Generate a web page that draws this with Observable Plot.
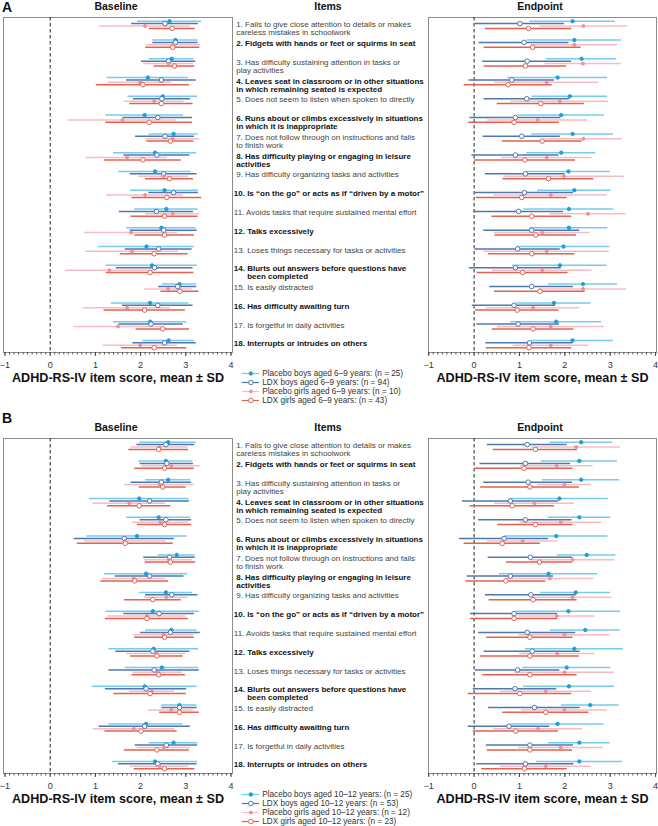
<!DOCTYPE html>
<html><head><meta charset="utf-8">
<script src="https://cdn.jsdelivr.net/npm/d3@7"></script>
<script src="https://cdn.jsdelivr.net/npm/@observablehq/plot@0.6"></script>
<style>
body{margin:0;background:#fff;}
#fig{position:relative;width:658px;height:826px;overflow:hidden;background:#fff;font-family:"Liberation Sans",Arial,Helvetica,sans-serif;}
#fig svg{position:absolute;overflow:visible;}
</style></head><body><div id="fig"></div>
<script>
// ---------- categories ----------
const items = [
  "1. Fails to give close attention to details or makes\ncareless mistakes in schoolwork",
  "2. Fidgets with hands or feet or squirms in seat",
  "3. Has difficulty sustaining attention in tasks or\nplay activities",
  "4. Leaves seat in classroom or in other situations\nin which remaining seated is expected",
  "5. Does not seem to listen when spoken to directly",
  "6. Runs about or climbs excessively in situations\nin which it is inappropriate",
  "7. Does not follow through on instructions and fails\nto finish work",
  "8. Has difficulty playing or engaging in leisure\nactivities",
  "9. Has difficulty organizing tasks and activities",
  "10. Is \u201con the go\u201d or acts as if \u201cdriven by a motor\u201d",
  "11. Avoids tasks that require sustained mental effort",
  "12. Talks excessively",
  "13. Loses things necessary for tasks or activities",
  "14. Blurts out answers before questions have\n\u00a0\u00a0\u00a0\u00a0\u00a0\u00a0been completed",
  "15. Is easily distracted",
  "16. Has difficulty awaiting turn",
  "17. Is forgetful in daily activities",
  "18. Interrupts or intrudes on others"
];
const groupsA = [
  "Placebo boys aged 6\u20139 years: (n = 25)",
  "LDX boys aged 6\u20139 years: (n = 94)",
  "Placebo girls aged 6\u20139 years: (n = 10)",
  "LDX girls aged 6\u20139 years: (n = 43)"
];
const groupsB = [
  "Placebo boys aged 10\u201312 years: (n = 25)",
  "LDX boys aged 10\u201312 years: (n = 53)",
  "Placebo girls aged 10\u201312 years: (n = 12)",
  "LDX girls aged 10\u201312 years: (n = 23)"
];
const xTicks = [-1, 0, 1, 2, 3, 4];
const axisTitle = "ADHD-RS-IV item score, mean \u00b1 SD";

// ---------- Panel A (6-9 years) baseline ----------
const aBasePBMean = [2.64,2.77,2.69,2.16,2.49,2.09,2.73,2.32,2.32,2.53,2.57,2.46,2.13,2.25,2.86,2.21,2.21,2.62];
const aBasePBSd   = [0.71,0.50,0.50,0.90,0.77,0.86,0.54,0.92,0.80,0.75,0.70,0.77,1.06,1.01,0.38,0.86,0.81,0.57];
const aBaseLBMean = [2.54,2.77,2.62,2.46,2.47,2.38,2.54,2.36,2.51,2.73,2.35,2.51,2.40,2.31,2.82,2.38,2.23,2.53];
const aBaseLBSd   = [0.74,0.50,0.60,0.77,0.63,0.77,0.65,0.73,0.74,0.55,0.82,0.74,0.74,0.85,0.42,0.78,0.71,0.70];
const aBasePGMean = [2.10,2.73,2.62,1.99,2.30,1.60,2.71,1.70,2.51,2.10,2.71,1.79,1.81,1.31,2.61,1.70,1.50,1.99];
const aBasePGSd   = [1.00,0.60,0.55,0.70,0.66,1.19,0.60,0.90,0.55,0.85,0.60,1.03,1.03,0.97,0.53,0.96,0.98,0.82];
const aBaseLGMean = [2.70,2.71,2.75,2.05,2.46,2.19,2.66,2.05,2.64,2.58,2.53,2.53,2.30,2.21,2.87,2.09,2.49,2.30];
const aBaseLGSd   = [0.51,0.60,0.45,1.03,0.70,0.96,0.52,0.85,0.53,0.77,0.74,0.66,0.75,0.97,0.42,0.90,0.59,0.72];
// ---------- Panel A endpoint ----------
const aEndPBMean = [2.17,2.21,2.37,1.84,2.11,1.92,2.17,1.92,2.08,2.21,2.09,2.09,1.97,1.89,2.40,1.76,1.81,2.17];
const aEndPBSd   = [0.94,1.04,0.77,1.10,0.83,0.95,0.90,0.76,0.92,0.81,0.99,0.86,1.02,1.04,0.76,0.82,1.00,0.90];
const aEndLBMean = [1.01,1.10,1.17,0.83,1.16,0.91,1.05,0.91,1.13,1.11,0.98,1.27,0.96,0.91,1.27,0.88,0.97,1.22];
const aEndLBSd   = [0.98,0.99,0.98,0.94,0.94,1.00,0.85,0.96,0.88,1.08,0.99,1.06,0.94,1.01,0.92,0.92,0.91,0.96];
const aEndPGMean = [2.41,2.21,2.40,1.60,1.89,1.40,2.41,1.60,1.98,1.69,2.51,1.50,1.60,1.50,2.40,1.30,1.69,1.69];
const aEndPGSd   = [0.97,0.95,0.84,1.15,1.08,1.10,0.85,1.00,1.33,1.25,0.84,1.06,1.38,1.10,0.96,1.03,1.18,0.83];
const aEndLGMean = [1.20,1.29,1.13,0.75,1.47,0.88,1.50,1.12,1.64,1.05,1.27,1.36,1.27,1.07,1.45,0.95,1.30,1.21];
const aEndLGSd   = [0.95,1.07,0.91,0.97,0.96,1.00,0.88,1.11,1.00,1.00,0.88,0.90,0.95,1.00,1.00,0.92,0.90,0.94];
// ---------- Panel B (10-12 years) baseline ----------
const bBasePBMean = [2.61,2.56,2.61,1.97,2.40,1.92,2.80,2.12,2.56,2.27,2.68,2.29,2.47,2.09,2.86,2.12,2.73,2.32];
const bBasePBSd   = [0.63,0.60,0.50,1.10,0.71,1.11,0.41,0.92,0.59,1.03,0.57,0.99,0.81,1.16,0.39,0.82,0.54,0.94];
const bBaseLBMean = [2.56,2.58,2.46,2.20,2.56,1.64,2.64,2.20,2.69,2.41,2.66,2.27,2.30,2.12,2.86,2.09,2.57,2.38];
const bBaseLBSd   = [0.64,0.59,0.67,0.88,0.57,1.11,0.57,0.76,0.58,0.78,0.66,0.82,1.00,0.90,0.39,1.01,0.69,0.87];
const bBasePGMean = [2.42,2.68,2.42,1.75,2.44,1.66,2.62,1.85,2.57,2.14,2.51,2.35,2.38,2.25,2.68,1.85,2.51,2.42];
const bBasePGSd   = [0.63,0.65,0.77,0.80,0.62,0.90,0.53,0.70,0.48,0.87,0.67,0.66,0.55,0.50,0.50,0.90,0.59,0.65];
const bBaseLGMean = [2.40,2.53,2.49,1.97,2.53,1.66,2.66,1.87,2.27,2.14,2.53,2.36,2.40,2.21,2.86,2.01,2.36,2.53];
const bBaseLGSd   = [0.66,0.66,0.52,0.70,0.60,1.06,0.56,0.75,0.63,0.92,0.66,0.58,0.59,0.80,0.44,0.80,0.72,0.67];
// ---------- Panel B endpoint ----------
const bEndPBMean = [2.36,2.32,2.36,1.88,2.32,1.81,2.48,1.64,2.24,2.08,2.45,2.21,2.04,2.09,2.56,1.84,2.32,2.32];
const bEndPBSd   = [0.69,0.84,0.85,1.08,0.69,1.14,0.65,1.08,0.77,1.15,0.77,1.08,0.97,1.00,0.64,1.02,0.68,0.95];
const bEndLBMean = [1.17,1.13,1.19,0.80,1.13,0.66,1.24,0.80,1.25,0.88,1.17,1.28,0.96,0.90,1.33,0.77,1.23,1.13];
const bEndLBSd   = [0.88,1.00,0.98,1.06,1.03,0.98,0.93,0.95,1.00,0.96,1.07,1.06,0.93,0.92,1.01,0.90,0.96,1.07];
const bEndPGMean = [2.25,1.82,1.99,1.33,1.91,1.07,2.17,1.67,2.17,1.82,1.99,1.83,1.99,1.58,1.99,1.41,1.91,1.58];
const bEndPGSd   = [0.98,0.80,0.59,0.88,0.90,0.78,0.94,0.97,0.87,0.85,1.00,0.83,1.10,1.01,0.95,0.98,0.93,1.00];
const bEndLGMean = [1.35,1.10,1.23,0.84,1.35,0.62,1.44,0.70,1.30,0.88,1.23,1.23,1.23,1.01,1.58,0.92,1.23,1.11];
const bEndLGSd   = [0.93,1.08,1.09,0.93,0.83,0.84,0.73,0.88,0.97,0.96,0.95,1.09,1.04,1.14,0.95,0.94,0.94,0.94];

// ---------- styles ----------
const FONT = '"Liberation Sans", Arial, Helvetica, sans-serif';
const lineColor = ["#79cbee", "#4e78b2", "#f7bcc3", "#e3624f"];
const dotFill   = ["#1d9fd7", "#ffffff", "#f08e9b", "#ffffff"];
const dotStroke = ["#1d9fd7", "#4e78b2", "#f08e9b", "#e3624f"];
const dotR      = [1.7, 2.3, 1.5, 2.3];
const yDomain = [18.45, 0.61];
const PAD = 0.128;
const fmtTick = d => (d < 0 ? "\u2212" : "") + Math.abs(d);

function rows(means, sds) {
  const out = [];
  means.forEach((m, k) => m.forEach((v, i) => {
    out.push({k, item: i + 1, mean: v, lo: v - sds[k][i], hi: v + sds[k][i], y: i + 1 + (k - 1.5) * PAD});
  }));
  return out;
}

function forest(data, xDomain, width, ml, mr) {
  const marks = [
    Plot.frame({stroke: "#8c8c8c"}),
    Plot.ruleX([0], {stroke: "#222", strokeDasharray: "3.5,2.5", strokeWidth: 1}),
    Plot.axisX({ticks: d3.range(-10, 41).map(d => d / 10), tickSize: 2.5, tickFormat: () => "", stroke: "#555", label: null}),
    Plot.axisX({ticks: xTicks, tickSize: 4, tickPadding: 5, tickFormat: fmtTick, fontSize: 9, stroke: "#444", fill: "#333", label: null})
  ];
  for (let k = 0; k < 4; k++) {
    marks.push(Plot.ruleY(data.filter(d => d.k === k), {y: "y", x1: "lo", x2: "hi", stroke: lineColor[k], strokeWidth: 1.5}));
  }
  for (let k = 0; k < 4; k++) {
    marks.push(Plot.dot(data.filter(d => d.k === k), {x: "mean", y: "y", r: dotR[k], fill: dotFill[k], stroke: dotStroke[k], strokeWidth: 1}));
  }
  return Plot.plot({
    width, height: 372, marginTop: 17, marginBottom: 20, marginLeft: ml, marginRight: mr,
    x: {domain: xDomain, label: null},
    y: {domain: yDomain, axis: null},
    style: {fontFamily: FONT, fontSize: "9px", overflow: "visible", background: "transparent"},
    marks
  });
}

function itemsPlot() {
  const d = items.map((t, i) => ({item: i + 1, label: t}));
  const common = {y: "item", text: "label", frameAnchor: "left", textAnchor: "start", lineAnchor: "top", dy: -3.3, fontSize: 8, lineHeight: 1.0};
  return Plot.plot({
    width: 196, height: 372, marginTop: 17, marginBottom: 20, marginLeft: 0, marginRight: 0,
    y: {domain: yDomain, axis: null},
    style: {fontFamily: FONT, overflow: "visible", background: "transparent"},
    marks: [
      Plot.text(d.filter(r => r.item % 2 === 1 && r.item < 10), {...common, dx: 3.7, fill: "#444"}),
      Plot.text(d.filter(r => r.item % 2 === 1 && r.item >= 10), {...common, dx: 1.3, fill: "#444"}),
      Plot.text(d.filter(r => r.item % 2 === 0 && r.item < 10), {...common, dx: 3.7, fill: "#111", fontWeight: "bold"}),
      Plot.text(d.filter(r => r.item % 2 === 0 && r.item >= 10), {...common, dx: 1.3, fill: "#111", fontWeight: "bold"})
    ]
  });
}

function legendPlot(groups) {
  const g = groups.map((name, k) => ({name, k}));
  const marks = [];
  for (let k = 0; k < 4; k++) {
    const one = g.filter(d => d.k === k);
    marks.push(Plot.ruleY(one, {y: "name", x1: () => 0, x2: () => 1, stroke: lineColor[k], strokeWidth: 1.2}));
    marks.push(Plot.dot(one, {y: "name", x: () => 0.5, r: dotR[k], fill: dotFill[k], stroke: dotStroke[k], strokeWidth: 1}));
  }
  marks.push(Plot.text(g, {y: "name", x: () => 1, text: "name", textAnchor: "start", dx: 2.7, fontSize: 8.2, fill: "#333"}));
  return Plot.plot({
    width: 200, height: 40, margin: 0,
    x: {domain: [0, 1], range: [5.7, 23], axis: null},
    y: {type: "point", domain: groups, range: [6.3, 35], padding: 0, axis: null},
    style: {fontFamily: FONT, overflow: "visible", background: "transparent"},
    marks
  });
}

const fig = document.getElementById("fig");
function place(el, left, top) { el.style.left = left + "px"; el.style.top = top + "px"; fig.appendChild(el); }

const panels = [
  {top: 0, label: "A", labelY: 11.5, groups: groupsA,
   base: rows([aBasePBMean, aBaseLBMean, aBasePGMean, aBaseLGMean], [aBasePBSd, aBaseLBSd, aBasePGSd, aBaseLGSd]),
   end: rows([aEndPBMean, aEndLBMean, aEndPGMean, aEndLGMean], [aEndPBSd, aEndLBSd, aEndPGSd, aEndLGSd])},
  {top: 421, label: "B", labelY: 423, groups: groupsB,
   base: rows([bBasePBMean, bBaseLBMean, bBasePGMean, bBaseLGMean], [bBasePBSd, bBaseLBSd, bBasePGSd, bBaseLGSd]),
   end: rows([bEndPBMean, bEndLBMean, bEndPGMean, bEndLGMean], [bEndPBSd, bEndLBSd, bEndPGSd, bEndLGSd])}
];

// overlay for titles
const ov = d3.create("svg").attr("width", 658).attr("height", 826).style("left", "0px").style("top", "0px")
  .style("font-family", FONT);

for (const p of panels) {
  place(forest(p.base, [-1.033, 4.033], 240, 3, 8), 0, p.top);
  place(itemsPlot(), 232, p.top);
  place(forest(p.end, [-1.005, 4.02], 234, 4, 2), 424, p.top);
  place(legendPlot(p.groups), 236, p.top + 366);

  ov.append("text").attr("x", 2).attr("y", p.labelY).attr("font-size", 14).attr("font-weight", "bold").attr("fill", "#111").text(p.label);
  const heads = [["Baseline", 116], ["Items", 328], ["Endpoint", 540]];
  for (const [t, x] of heads) {
    ov.append("text").attr("x", x).attr("y", p.top + 10).attr("text-anchor", "middle").attr("font-size", 10.5).attr("font-weight", "bold").attr("fill", "#111").text(t);
  }
  for (const x of [118, 542.5]) {
    ov.append("text").attr("x", x).attr("y", p.top + 381.5).attr("text-anchor", "middle").attr("font-size", 12.6).attr("font-weight", "bold").attr("fill", "#111").text(axisTitle);
  }
}
fig.appendChild(ov.node());
</script></body></html>
